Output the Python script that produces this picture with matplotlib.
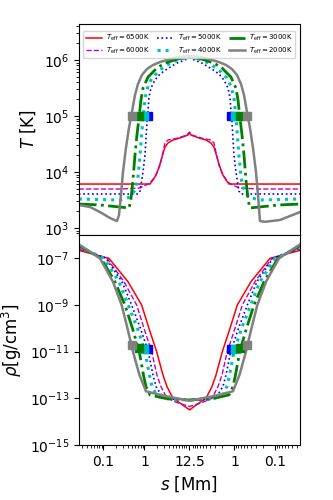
import numpy as np
import matplotlib
matplotlib.use("Agg")
import matplotlib.pyplot as plt
from matplotlib.ticker import FixedLocator, NullLocator, LogFormatterSciNotation

# ---------------- data ----------------
L_half = 12.5  # Mm, loop apex position
teff_labels = [r'$T_{\rm eff}=6500$K', r'$T_{\rm eff}=6000$K', r'$T_{\rm eff}=5000$K',
               r'$T_{\rm eff}=4000$K', r'$T_{\rm eff}=3000$K', r'$T_{\rm eff}=2000$K']
tick_vals = [0.1, 1, 12.5, 1, 0.1]
tick_labels = ['0.1', '1', '12.5', '1', '0.1']

# Temperature profiles, footpoint -> apex (s in Mm, T in K)
sT_6500 = [0.025, 0.5, 1.36, 1.61, 1.91, 2.13, 2.39, 2.67, 3.16, 3.74, 4.95, 7.33, 11.5, 12.5]
T_6500 = [6100, 6100, 6100, 7200, 8800, 10900, 13900, 18500, 27900, 33000, 37300, 40500, 45800, 49700]

sT_6000 = [0.025, 0.25, 0.78, 1.36, 1.70, 2.01, 2.39, 2.67, 3.16, 3.74, 6.56, 10.9, 12.5]
T_6000 = [4970, 4970, 5180, 6360, 7820, 9600, 13300, 18500, 33000, 37300, 40500, 45800, 51800]

sT_5000 = [0.025, 0.69, 0.78, 0.92, 1.03, 1.09, 1.15, 1.22, 1.29, 1.44, 1.80, 2.39, 3.53, 6.2, 12.5]
T_5000 = [4050, 4050, 4580, 10000, 20100, 40500, 78100, 1.28e5, 2.18e5, 3.16e5, 4.4e5, 5.62e5, 6.9e5, 8.8e5, 1.09e6]

sT_4000 = [0.025, 0.25, 0.44, 0.59, 0.69, 0.78, 0.87, 0.92, 1.03, 1.22, 1.53, 2.39, 4.19, 7.33, 12.5]
T_4000 = [3300, 3160, 3580, 4770, 7820, 20100, 56200, 9.6e4, 2.1e5, 3.43e5, 4.77e5, 6.63e5, 8.8e5, 1.04e6, 1.13e6]

sT_3000 = [0.025, 0.082, 0.25, 0.42, 0.465, 0.524, 0.586, 0.655, 0.733, 0.82, 0.92, 1.22, 2.01, 3.16, 6.2, 12.5]
T_3000 = [2680, 2580, 2370, 2280, 3160, 7200, 20100, 45800, 9.2e4, 1.93e5, 3.16e5, 4.97e5, 7.2e5, 8.8e5, 1.04e6, 1.13e6]

sT_2000 = [0.025, 0.047, 0.082, 0.144, 0.213, 0.239, 0.267, 0.299, 0.353, 0.418, 0.495, 0.586, 0.693, 0.867,
           1.15, 1.61, 2.39, 4.19, 6.2, 12.5]
T_2000 = [2580, 2370, 1930, 1510, 1330, 1700, 3880, 10000, 26800, 61000, 1.18e5, 2.37e5, 3.73e5, 5.4e5,
          6.9e5, 8.15e5, 9.2e5, 1.04e6, 1.13e6, 1.18e6]
# right leg of the 2000 K model (distance from right footpoint)
sT_2000_right = [0.025, 0.044, 0.078, 0.18, 0.239, 0.267, 0.299, 0.353, 0.418, 0.495, 0.586, 0.693, 0.867,
                 1.15, 1.61, 2.39, 4.19, 6.2, 12.5]
T_2000_right = [1930, 1640, 1390, 1290, 1330, 3880, 10000, 26800, 61000, 1.18e5, 2.37e5, 3.73e5, 5.4e5,
                6.9e5, 8.15e5, 9.2e5, 1.04e6, 1.13e6, 1.18e6]

# Density profiles (g/cm^3)
sr_6500 = [0.025, 0.136, 0.396, 0.853, 1.285, 1.98, 2.82, 3.53, 4.95, 7.33, 12.5]
rho_6500 = [2.2e-7, 1e-7, 1e-8, 1e-9, 1e-10, 1e-11, 1e-12, 3.2e-13, 1e-13, 6.3e-14, 3.2e-14]

sr_6000 = [0.025, 0.122, 0.316, 0.644, 0.971, 1.50, 2.01, 2.52, 3.53, 6.56, 12.5]
rho_6000 = [2.5e-7, 1e-7, 1e-8, 1e-9, 1e-10, 1e-11, 1e-12, 3.2e-13, 1e-13, 6.3e-14, 4.5e-14]

sr_5000 = [0.025, 0.115, 0.283, 0.486, 0.798, 1.236, 1.61, 1.91, 2.67, 5.53, 12.5]
rho_5000 = [2.8e-7, 1e-7, 1e-8, 1e-9, 1e-10, 1e-11, 1e-12, 3.2e-13, 1.26e-13, 8.9e-14, 8.5e-14]

sr_4000 = [0.025, 0.103, 0.239, 0.402, 0.674, 1.03, 1.32, 1.53, 2.01, 4.19, 12.5]
rho_4000 = [3.2e-7, 1e-7, 1e-8, 1e-9, 1e-10, 1e-11, 1e-12, 3.2e-13, 1.26e-13, 8.9e-14, 8.5e-14]

sr_3000 = [0.025, 0.087, 0.19, 0.334, 0.509, 0.746, 0.944, 1.087, 1.36, 3.16, 12.5]
rho_3000 = [3.5e-7, 1e-7, 1e-8, 1e-9, 1e-10, 1e-11, 1e-12, 3.2e-13, 1.4e-13, 1e-13, 8.5e-14]

sr_2000 = [0.025, 0.082, 0.17, 0.277, 0.385, 0.524, 0.755, 1.087, 3.16, 12.5]
rho_2000 = [4e-7, 1e-7, 1e-8, 1e-9, 1e-10, 1e-11, 1e-12, 2e-13, 1.26e-13, 7.9e-14]

# Transition-region markers (5000, 4000, 3000, 2000 K models)
tr_s = [1.22, 0.97, 0.73, 0.50]
tr_T = [1e5, 1e5, 1e5, 1e5]
tr_rho = [1.29e-11, 1.29e-11, 1.48e-11, 1.95e-11]
tr_colors = ['b', 'c', 'g', 'gray']

# ---------------- helpers ----------------
Lg = np.log10(L_half)


def xl(s):
    return np.log10(np.asarray(s, float))


def xr(s):
    return 2 * Lg - np.log10(np.asarray(s, float))


def loop(s, v, s_right=None, v_right=None):
    if s_right is None:
        s_right, v_right = s, v
    x = np.concatenate([xl(s), xr(s_right)[::-1][1:]])
    y = np.concatenate([np.asarray(v, float), np.asarray(v_right, float)[::-1][1:]])
    return x, y


colors = ['r', 'm', 'b', 'c', 'g', 'gray']
styles = [dict(ls='-', lw=1.1), dict(ls='--', lw=1.0), dict(ls=':', lw=1.2),
          dict(ls=':', lw=2.2), dict(ls='-.', lw=2.0), dict(ls='-', lw=1.8)]

T_sets = [(sT_6500, T_6500, None, None), (sT_6000, T_6000, None, None),
          (sT_5000, T_5000, None, None), (sT_4000, T_4000, None, None),
          (sT_3000, T_3000, None, None), (sT_2000, T_2000, sT_2000_right, T_2000_right)]
rho_sets = [(sr_6500, rho_6500), (sr_6000, rho_6000), (sr_5000, rho_5000),
            (sr_4000, rho_4000), (sr_3000, rho_3000), (sr_2000, rho_2000)]

# ---------------- figure ----------------
fig = plt.figure(figsize=(3.33, 5.0), dpi=100)
ax1 = fig.add_axes([0.237, 0.530, 0.664, 0.422])
ax2 = fig.add_axes([0.237, 0.110, 0.664, 0.420])

for (s, v, s2, v2), c, st, lab in zip(T_sets, colors, styles, teff_labels):
    x, y = loop(s, v, s2, v2)
    ax1.plot(x, y, color=c, label=lab, **st)
for (s, v), c, st in zip(rho_sets, colors, styles):
    x, y = loop(s, v)
    ax2.plot(x, y, color=c, **st)

for s, T, r, c in zip(tr_s, tr_T, tr_rho, tr_colors):
    for xx in (xl(s), xr(s)):
        ax1.plot([xx], [T], marker='s', ms=5.5, color=c, ls='none')
        ax2.plot([xx], [r], marker='s', ms=5.5, color=c, ls='none')

xmin = np.log10(0.0252)
xmax = 2 * Lg - xmin
major_pos = [xl(0.1), xl(1), Lg, xr(1), xr(0.1)]
minor_pos = []
for n in [-2, -1, 0, 1]:
    for k in range(1, 10):
        sv = k * 10.0 ** n
        if 0.0252 <= sv < L_half and not np.isclose(sv, 0.1) and not np.isclose(sv, 1.0):
            minor_pos += [np.log10(sv), 2 * Lg - np.log10(sv)]

for ax in (ax1, ax2):
    ax.set_yscale('log')
    ax.set_xlim(xmin, xmax)
    ax.xaxis.set_major_locator(FixedLocator(major_pos))
    ax.xaxis.set_minor_locator(FixedLocator(minor_pos))
    ax.tick_params(labelsize=10)

ax1.set_xticklabels([])
ax2.set_xticklabels(tick_labels)

ax1.set_ylim(750, 4.4e6)
ax2.set_ylim(1e-15, 1e-6)
ax2.yaxis.set_major_locator(FixedLocator([1e-15, 1e-13, 1e-11, 1e-9, 1e-7]))
ax2.yaxis.set_major_formatter(LogFormatterSciNotation())
ax2.yaxis.set_minor_locator(NullLocator())

ax1.set_ylabel(r'$T$ [K]', fontsize=12)
ax2.set_ylabel(r'$\rho$[g/cm$^3$]', fontsize=12)
ax2.set_xlabel(r'$s$ [Mm]', fontsize=12)

ax1.legend(loc='upper left', bbox_to_anchor=(0.005, 0.0, 0.99, 0.985), mode='expand',
           ncol=3, fontsize=5, handlelength=2.3, borderpad=0.35, labelspacing=0.35,
           columnspacing=0.8, handletextpad=0.6)

fig.savefig('out.png', dpi=100)
